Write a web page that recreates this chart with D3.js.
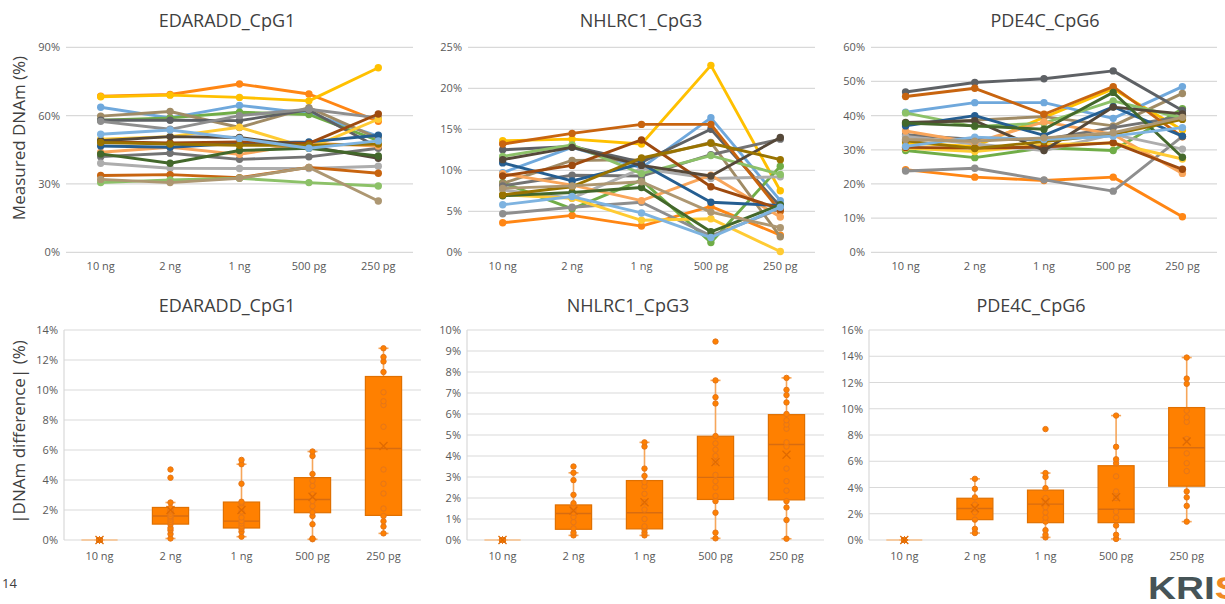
<!DOCTYPE html>
<html>
<head>
<meta charset="utf-8">
<script src="https://cdn.jsdelivr.net/npm/d3@7"></script>
<style>
  body { margin: 0; background: #ffffff; }
  svg { display: block; font-family: "Open Sans", "Noto Sans", sans-serif; }
</style>
</head>
<body>
<svg id="chart" width="1225" height="604"></svg>
<script>
// ---------- data ----------
const categories = ["10 ng", "2 ng", "1 ng", "500 pg", "250 pg"];

const sampleColors = [
  "#FF8614", "#FFC000", "#6FA8DC", "#70AD47", "#A08B65",
  "#5E6165", "#8E8E8E", "#737373", "#ADADAD", "#C8640F",
  "#8CC168", "#F9A55A", "#FFCB33", "#255E91", "#9E4A0E",
  "#554839", "#43682B", "#997300", "#7EB3E0", "#AD9772"
];

// measured DNAm (%) per sample, one row per sample, columns follow categories
const edaraddMeasured = [
  [68.5, 69.3, 73.9, 69.5, 57.5],
  [68.3, 69.0, 68.0, 66.5, 81.0],
  [63.7, 59.0, 64.5, 61.0, 51.0],
  [58.0, 59.0, 61.5, 60.5, 49.0],
  [59.8, 61.8, 54.8, 63.5, 50.0],
  [58.0, 58.0, 57.8, 62.5, 46.0],
  [57.5, 54.0, 60.0, 62.8, 59.0],
  [42.0, 43.5, 40.8, 41.9, 45.7],
  [39.1, 36.9, 36.8, 36.8, 37.8],
  [33.7, 34.1, 32.8, 37.3, 34.7],
  [30.6, 31.8, 32.5, 30.6, 29.1],
  [43.9, 46.1, 43.0, 47.9, 46.7],
  [49.6, 50.8, 54.9, 45.7, 58.4],
  [46.7, 46.1, 47.9, 48.5, 51.4],
  [48.6, 48.0, 48.5, 47.8, 60.7],
  [49.0, 50.8, 50.4, 46.5, 41.3],
  [43.2, 39.1, 44.7, 45.7, 42.3],
  [48.2, 47.5, 47.0, 47.0, 47.5],
  [51.8, 53.7, 50.0, 45.7, 48.9],
  [32.0, 30.6, 32.5, 37.3, 22.5]
];

const nhlrc1Measured = [
  [3.6, 4.5, 3.2, 5.6, 2.1],
  [13.6, 13.8, 13.2, 22.8, 7.5],
  [9.7, 12.8, 10.3, 16.4, 6.3],
  [8.5, 5.3, 8.8, 1.2, 10.5],
  [8.4, 11.2, 11.3, 13.4, 1.9],
  [12.5, 12.9, 11.0, 15.0, 5.6],
  [4.7, 5.5, 6.1, 2.0, 5.3],
  [8.1, 9.4, 9.3, 11.9, 13.8],
  [7.6, 6.6, 10.2, 9.0, 9.2],
  [13.2, 14.5, 15.6, 15.6, 5.0],
  [11.7, 13.1, 9.6, 11.8, 9.5],
  [9.6, 8.2, 6.3, 9.4, 4.3],
  [7.0, 6.6, 3.9, 4.1, 0.1],
  [10.9, 8.7, 10.8, 6.1, 5.7],
  [9.3, 10.6, 13.7, 8.0, 5.3],
  [11.3, 12.8, 10.6, 9.3, 14.0],
  [6.9, 7.3, 7.9, 2.5, 5.8],
  [7.0, 8.0, 11.5, 13.3, 11.3],
  [5.8, 6.8, 4.8, 1.8, 5.5],
  [7.8, 8.1, 8.6, 4.9, 3.0]
];

const pde4cMeasured = [
  [24.2, 22.0, 21.0, 22.0, 10.4],
  [32.0, 31.0, 39.5, 47.8, 35.8],
  [41.0, 43.8, 43.8, 39.2, 48.5],
  [29.8, 27.7, 30.6, 29.8, 42.0],
  [37.5, 38.7, 39.7, 37.0, 46.5],
  [46.9, 49.7, 50.8, 53.1, 41.5],
  [23.8, 24.6, 21.2, 17.9, 33.9],
  [34.4, 33.0, 33.0, 36.5, 39.8],
  [33.9, 31.7, 29.8, 34.5, 30.2],
  [45.6, 48.0, 40.4, 48.5, 33.8],
  [40.8, 36.8, 37.8, 44.3, 39.3],
  [35.5, 32.1, 38.2, 34.5, 23.1],
  [30.5, 29.5, 31.5, 32.0, 27.3],
  [37.0, 40.0, 34.2, 42.6, 34.0],
  [30.7, 30.5, 30.8, 32.1, 24.3],
  [38.0, 38.5, 29.8, 42.5, 40.5],
  [37.8, 37.0, 36.0, 46.8, 27.8],
  [32.6, 30.4, 32.4, 34.5, 38.9],
  [31.0, 33.7, 33.0, 34.0, 36.5],
  [33.0, 32.5, 33.5, 35.0, 39.5]
];

// |DNAm difference| (%) per input amount: individual values
const zeroDiffs = [0,0,0,0,0,0,0,0,0,0,0,0,0,0,0,0,0,0,0,0];
const edaraddDiffPoints = [
  zeroDiffs,
  [0.1, 0.4, 0.65, 0.8, 1.05, 1.2, 1.35, 1.5, 1.6, 1.75, 1.9, 2.0, 2.15, 2.5, 4.15, 4.7],
  [0.22, 0.55, 0.75, 0.9, 1.1, 1.26, 1.5, 1.9, 2.2, 2.45, 2.55, 3.75, 5.05, 5.34],
  [0.05, 0.1, 1.05, 1.6, 1.85, 2.25, 2.6, 3.05, 3.6, 3.95, 4.4, 5.6, 5.9],
  [0.44, 0.9, 1.25, 1.6, 2.1, 3.1, 3.75, 4.7, 7.55, 9.0, 9.25, 9.85, 11.2, 11.9, 12.2, 12.78]
];
const nhlrc1DiffPoints = [
  zeroDiffs,
  [0.22, 0.35, 0.55, 0.85, 1.1, 1.3, 1.45, 1.6, 1.75, 2.15, 2.85, 3.2, 3.5],
  [0.22, 0.35, 0.5, 0.65, 1.0, 1.45, 1.8, 2.2, 2.55, 2.75, 3.05, 3.4, 4.45, 4.65],
  [0.08, 0.35, 1.3, 1.85, 2.1, 2.5, 2.8, 3.1, 3.7, 4.0, 4.3, 4.6, 4.95, 6.5, 6.8, 7.6, 9.45],
  [0.06, 0.95, 1.55, 1.85, 2.35, 2.8, 3.4, 4.45, 4.65, 5.3, 5.5, 5.7, 6.0, 6.55, 6.9, 7.15, 7.72]
];
const pde4cDiffPoints = [
  zeroDiffs,
  [0.53, 0.85, 1.55, 2.1, 2.4, 2.7, 3.25, 3.9, 4.66],
  [0.2, 0.4, 0.75, 1.4, 1.7, 2.1, 2.5, 2.9, 3.2, 3.95, 4.8, 5.1, 8.45],
  [0.08, 0.4, 1.1, 1.7, 2.15, 3.2, 3.7, 4.85, 5.85, 6.15, 7.1, 9.48],
  [1.4, 2.6, 3.25, 3.7, 5.25, 5.85, 6.6, 7.7, 9.0, 9.35, 9.85, 11.9, 12.3, 13.9]
];

// box summaries: [whisker low, Q1, median, Q3, whisker high, mean]
const edaraddBoxStats = [
  [0, 0, 0, 0, 0, 0],
  [0.1, 1.06, 1.6, 2.17, 2.5, 2.0],
  [0.22, 0.8, 1.26, 2.53, 5.05, 2.0],
  [0.05, 1.82, 2.7, 4.16, 5.9, 2.88],
  [0.44, 1.64, 6.1, 10.9, 12.78, 6.27]
];
const nhlrc1BoxStats = [
  [0, 0, 0, 0, 0, 0],
  [0.22, 0.51, 1.26, 1.67, 3.2, 1.4],
  [0.22, 0.53, 1.3, 2.83, 4.65, 1.8],
  [0.08, 1.93, 2.98, 4.94, 7.6, 3.71],
  [0.06, 1.91, 4.55, 5.97, 7.72, 4.06]
];
const pde4cBoxStats = [
  [0, 0, 0, 0, 0, 0],
  [0.53, 1.55, 2.4, 3.18, 4.66, 2.42],
  [0.2, 1.32, 2.73, 3.8, 5.1, 2.88],
  [0.08, 1.32, 2.34, 5.66, 9.48, 3.26],
  [1.4, 4.1, 7.03, 10.09, 13.9, 7.5]
];

// axis ticks (%)
const edaraddMeasuredTicks = [0, 30, 60, 90];
const nhlrc1MeasuredTicks = [0, 5, 10, 15, 20, 25];
const pde4cMeasuredTicks = [0, 10, 20, 30, 40, 50, 60];
const edaraddDiffTicks = [0, 2, 4, 6, 8, 10, 12, 14];
const nhlrc1DiffTicks = [0, 1, 2, 3, 4, 5, 6, 7, 8, 9, 10];
const pde4cDiffTicks = [0, 2, 4, 6, 8, 10, 12, 14, 16];

// ---------- drawing ----------
const svg = d3.select("#chart");
const textColor = "#595959";
const titleColor = "#404040";
const gridColor = "#D9D9D9";

function styleAxis(sel) {
  sel.select(".domain").remove();
  sel.selectAll(".tick line").remove();
  sel.selectAll(".tick text")
    .attr("fill", textColor)
    .style("font-size", "11px")
    .style("font-family", "\"Open Sans\", \"Noto Sans\", sans-serif");
}

function lineChart(cfg) {
  const x = d3.scaleBand().domain(categories).range([cfg.x0, cfg.x1]);
  const y = d3.scaleLinear().domain([0, d3.max(cfg.ticks)]).range([252.3, 47.3]);
  const g = svg.append("g");

  g.append("g").selectAll("line").data(cfg.ticks).join("line")
    .attr("x1", cfg.x0).attr("x2", cfg.x1)
    .attr("y1", d => y(d)).attr("y2", d => y(d))
    .attr("stroke", gridColor).attr("stroke-width", 1.2);

  g.append("g").attr("transform", `translate(${cfg.x0 - 6},0)`)
    .call(d3.axisLeft(y).tickValues(cfg.ticks).tickFormat(d => d + "%").tickSize(0).tickPadding(0))
    .call(styleAxis);

  g.append("g").attr("transform", "translate(0,262)")
    .call(d3.axisBottom(x).tickSize(0).tickPadding(0))
    .call(styleAxis);

  const cx = c => x(c) + x.bandwidth() / 2;
  const line = d3.line().x((d, i) => cx(categories[i])).y(d => y(d));

  cfg.data.forEach((row, s) => {
    const sg = g.append("g");
    sg.append("path").attr("d", line(row))
      .attr("fill", "none").attr("stroke", sampleColors[s])
      .attr("stroke-width", 2.9).attr("stroke-linejoin", "round");
    sg.selectAll("circle").data(row).join("circle")
      .attr("cx", (d, i) => cx(categories[i])).attr("cy", d => y(d))
      .attr("r", 3.7).attr("fill", sampleColors[s]);
  });

  g.append("text").attr("x", cfg.titleX).attr("y", 27)
    .attr("text-anchor", "middle").attr("fill", titleColor)
    .style("font-size", "18px").text(cfg.title);
}

function boxChart(cfg) {
  const x = d3.scaleBand().domain(categories).range([cfg.x0, cfg.x1]);
  const y = d3.scaleLinear().domain([0, d3.max(cfg.ticks)]).range([540, 330]);
  const g = svg.append("g");

  g.append("g").selectAll("line").data(cfg.ticks).join("line")
    .attr("x1", cfg.x0).attr("x2", cfg.gridEnd)
    .attr("y1", d => y(d)).attr("y2", d => y(d))
    .attr("stroke", gridColor).attr("stroke-width", 1.2);
  g.append("line").attr("x1", cfg.x0).attr("x2", cfg.x0)
    .attr("y1", y.range()[1]).attr("y2", y.range()[0])
    .attr("stroke", gridColor).attr("stroke-width", 1.2);

  g.append("g").attr("transform", `translate(${cfg.x0 - 6},0)`)
    .call(d3.axisLeft(y).tickValues(cfg.ticks).tickFormat(d => d + "%").tickSize(0).tickPadding(0))
    .call(styleAxis);

  g.append("g").attr("transform", "translate(0,552)")
    .call(d3.axisBottom(x).tickSize(0).tickPadding(0))
    .call(styleAxis);

  const boxFill = "#FF8000";
  const boxEdge = "#E07000";
  const whisker = "#F6A65A";
  const bw = x.bandwidth() * 0.51;
  const cap = 10;

  categories.forEach((c, i) => {
    const [lo, q1, med, q3, hi, mean] = cfg.stats[i];
    const cx = x(c) + x.bandwidth() / 2;
    const bg = g.append("g");
    // whiskers
    bg.append("line").attr("x1", cx).attr("x2", cx).attr("y1", y(hi)).attr("y2", y(q3))
      .attr("stroke", whisker).attr("stroke-width", 1.6);
    bg.append("line").attr("x1", cx).attr("x2", cx).attr("y1", y(q1)).attr("y2", y(lo))
      .attr("stroke", whisker).attr("stroke-width", 1.6);
    [hi, lo].forEach(v => bg.append("line")
      .attr("x1", cx - cap / 2).attr("x2", cx + cap / 2).attr("y1", y(v)).attr("y2", y(v))
      .attr("stroke", whisker).attr("stroke-width", 1.6));
    // box
    if (q3 > q1) {
      bg.append("rect").attr("x", cx - bw / 2).attr("width", bw)
        .attr("y", y(q3)).attr("height", y(q1) - y(q3))
        .attr("fill", boxFill).attr("stroke", boxEdge).attr("stroke-width", 1.2);
      bg.append("line").attr("x1", cx - bw / 2).attr("x2", cx + bw / 2)
        .attr("y1", y(med)).attr("y2", y(med))
        .attr("stroke", "#D86C10").attr("stroke-width", 1.4);
    } else {
      bg.append("line").attr("x1", cx - bw / 2).attr("x2", cx + bw / 2)
        .attr("y1", y(q1)).attr("y2", y(q1))
        .attr("stroke", "#F9C08A").attr("stroke-width", 1.4);
    }
    // individual values
    bg.selectAll("circle").data(cfg.points[i]).join("circle")
      .attr("cx", cx).attr("cy", d => y(d)).attr("r", 2.7)
      .attr("fill", boxFill).attr("stroke", "#E4761A").attr("stroke-width", 1);
    // mean marker
    const m = 4;
    bg.append("path")
      .attr("d", `M${cx - m},${y(mean) - m}L${cx + m},${y(mean) + m}M${cx + m},${y(mean) - m}L${cx - m},${y(mean) + m}`)
      .attr("stroke", "#E06A00").attr("stroke-width", 1.3).attr("fill", "none");
  });

  g.append("text").attr("x", cfg.titleX).attr("y", 312)
    .attr("text-anchor", "middle").attr("fill", titleColor)
    .style("font-size", "18px").text(cfg.title);
}

lineChart({ title: "EDARADD_CpG1", data: edaraddMeasured, ticks: edaraddMeasuredTicks, x0: 66, x1: 413, titleX: 227 });
lineChart({ title: "NHLRC1_CpG3", data: nhlrc1Measured, ticks: nhlrc1MeasuredTicks, x0: 468, x1: 815, titleX: 641 });
lineChart({ title: "PDE4C_CpG6", data: pde4cMeasured, ticks: pde4cMeasuredTicks, x0: 871, x1: 1217, titleX: 1045 });

boxChart({ title: "EDARADD_CpG1", points: edaraddDiffPoints, stats: edaraddBoxStats, ticks: edaraddDiffTicks, x0: 64, x1: 419, gridEnd: 421, titleX: 227 });
boxChart({ title: "NHLRC1_CpG3", points: nhlrc1DiffPoints, stats: nhlrc1BoxStats, ticks: nhlrc1DiffTicks, x0: 467, x1: 822, gridEnd: 824, titleX: 628 });
boxChart({ title: "PDE4C_CpG6", points: pde4cDiffPoints, stats: pde4cBoxStats, ticks: pde4cDiffTicks, x0: 869, x1: 1222, gridEnd: 1225, titleX: 1031 });

// axis titles
svg.append("text").attr("transform", "translate(25,138) rotate(-90)")
  .attr("text-anchor", "middle").attr("fill", titleColor)
  .style("font-size", "17px").text("Measured DNAm (%)");
svg.append("text").attr("transform", "translate(25,432) rotate(-90)")
  .attr("text-anchor", "middle").attr("fill", titleColor)
  .style("font-size", "17px").text("|DNAm difference| (%)");

// page number and logo (the logo runs off the right edge of the slide)
svg.append("text").attr("x", 2).attr("y", 588).attr("fill", titleColor)
  .style("font-size", "13px").text("14");
const logo = svg.append("text").attr("transform", "translate(1148,599) scale(1.25,1)")
  .style("font-family", "\"Liberation Sans\", Arial, sans-serif")
  .style("font-size", "31px").style("font-weight", "bold");
logo.append("tspan").attr("fill", "#465457").text("KRI");
logo.append("tspan").attr("fill", "#F08A24").text("S");
</script>
</body>
</html>
